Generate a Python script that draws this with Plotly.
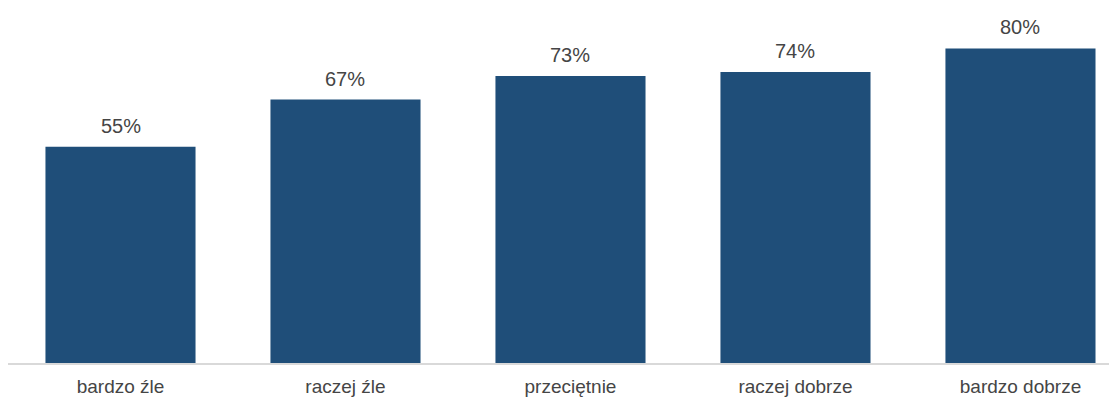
import plotly.graph_objects as go

categories = ["bardzo źle", "raczej źle", "przeciętnie", "raczej dobrze", "bardzo dobrze"]
values = [55, 67, 73, 74, 80]
labels = [f"{v}%" for v in values]

FONT = "Liberation Sans Narrow, Arial Narrow, Liberation Sans, Arial, sans-serif"
TXT = "#454545"

fig = go.Figure(go.Bar(
    x=categories, y=values, marker_color="#1f4e79",
    marker_line_width=0, width=0.667,
))
for c, v, t in zip(categories, values, labels):
    fig.add_annotation(x=c, y=v, text=t, showarrow=False, yanchor="bottom",
                       yshift=8, font=dict(family=FONT, size=20, color=TXT))

fig.update_layout(
    width=1109, height=397,
    margin=dict(l=0, r=0, t=0, b=42),
    plot_bgcolor="white", paper_bgcolor="white",
    showlegend=False,
    xaxis=dict(range=[-0.5, 4.429], showline=True, linecolor="#d9d9d9", linewidth=2,
               ticks="", tickfont=dict(family=FONT, size=19, color=TXT),
               ticklabelstandoff=5, fixedrange=True),
    yaxis=dict(range=[0, 90.3], visible=False, showgrid=False, fixedrange=True),
)
fig.write_html("out.html")
